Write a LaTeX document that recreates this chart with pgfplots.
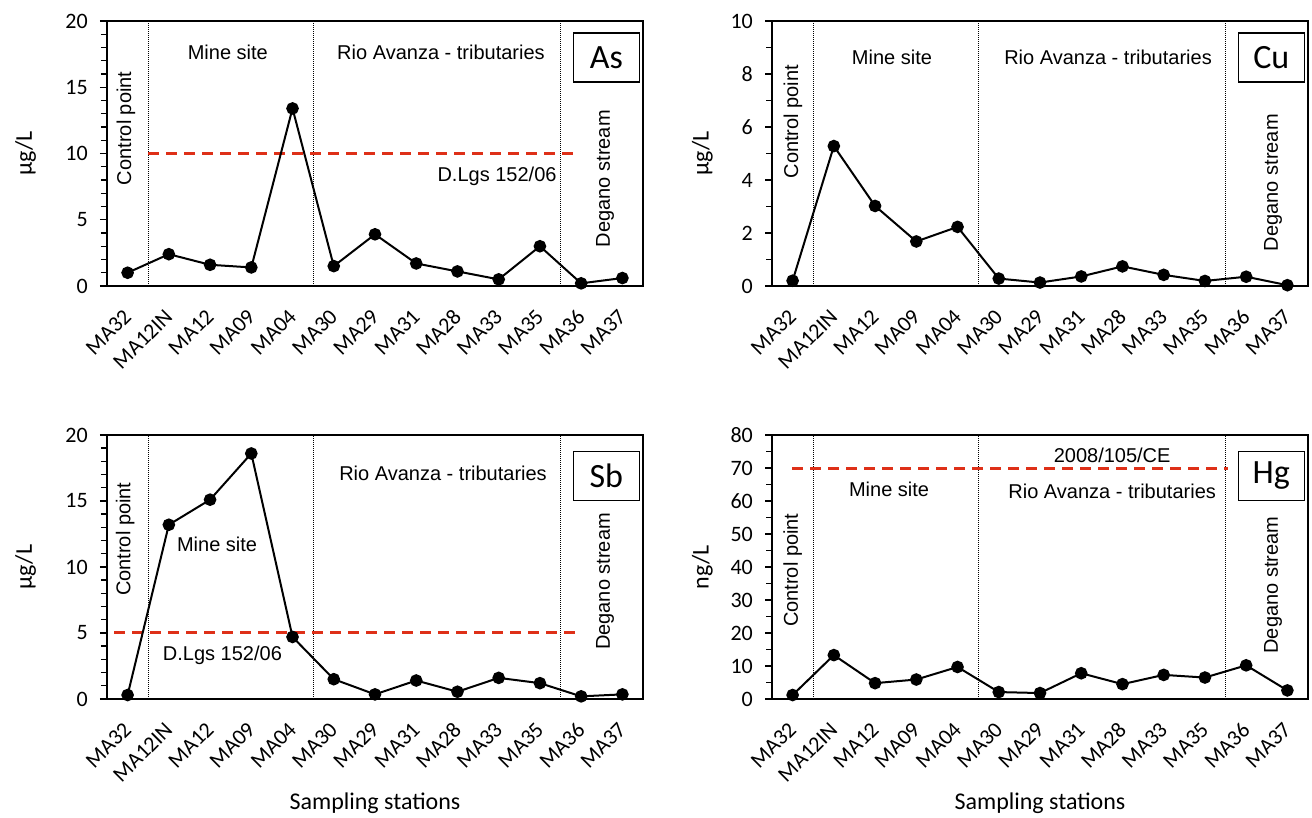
\documentclass[border=0pt]{standalone}
\usepackage{pgfplots}
\pgfplotsset{compat=1.18}
\usepackage{fontspec}
\setmainfont{Carlito}
\newfontfamily\narrowf{Liberation Sans}
\definecolor{dred}{RGB}{222,48,24}

\pgfplotstableread{
x As Cu Sb Hg
0 1.0 0.20 0.30 1.2
1 2.4 5.28 13.2 13.3
2 1.6 3.02 15.1 4.8
3 1.4 1.68 18.6 5.9
4 13.4 2.23 4.7 9.7
5 1.5 0.28 1.5 2.1
6 3.9 0.13 0.35 1.8
7 1.7 0.36 1.4 7.8
8 1.1 0.74 0.55 4.5
9 0.5 0.42 1.6 7.3
10 3.0 0.19 1.2 6.5
11 0.2 0.35 0.2 10.2
12 0.6 0.03 0.35 2.6
}\data

\tikzset{
 ann/.style={font=\fontsize{20}{20}\narrowf},
 elbox/.style={draw, line width=1.5pt, font=\fontsize{34}{34}\selectfont, minimum width=66pt, minimum height=49pt, inner sep=0pt, fill=white},
}
\pgfplotsset{
 panel/.style={
   scale only axis, width=536pt,
   xmin=-0.5, xmax=12.5, ymin=0,
   xtick={0,...,12},
   xticklabels={MA32,MA12IN,MA12,MA09,MA04,MA30,MA29,MA31,MA28,MA33,MA35,MA36,MA37},
   xticklabel style={font=\fontsize{22}{22}\selectfont, rotate=45, anchor=east, inner sep=0pt},
   xticklabel shift=20pt,
   major x tick style={draw=none},
   ytick pos=left, tick align=outside,
   major tick length=7pt, minor tick length=6pt,
   every tick/.append style={black, line width=1.4pt},
   yticklabel style={font=\fontsize{22}{22}\selectfont, /pgf/number format/assume math mode=true, inner sep=2pt},
   yticklabel shift=10pt,
   axis line style={line width=1.6pt},
   clip=false,
 },
 datal/.style={black, line width=2pt, mark=*, mark size=5.3pt, mark options={solid}},
 vdiv/.style={black, line width=1pt, densely dotted},
 lim/.style={dred, line width=3pt, dash pattern=on 11pt off 7pt},
 yl/.style={every axis y label/.style={at={(axis description cs:#1,0.5)}, rotate=90, anchor=center, font=\fontsize{24}{24}\selectfont}},
 xl/.style={xlabel={Sampling stations}, every axis x label/.style={at={(axis description cs:0.5,-0.394)}, anchor=center, font=\fontsize{24}{24}\selectfont}},
}

\begin{document}
\begin{tikzpicture}
\useasboundingbox (0,0) rectangle (1312pt,818pt);

% ---------- As ----------
\begin{axis}[panel, height=265pt, at={(107pt,532pt)}, anchor=south west,
  ymax=20, ytick={0,5,10,15,20}, minor y tick num=4,
  ylabel={µg/L}, yl=-0.152]
\addplot[vdiv] coordinates {(0.5,0) (0.5,20)};
\addplot[vdiv] coordinates {(4.5,0) (4.5,20)};
\addplot[vdiv] coordinates {(10.5,0) (10.5,20)};
\addplot[lim] coordinates {(0.5,10) (10.92,10)};
\addplot[datal] table[x=x, y=As] {\data};
\node[ann] at (axis cs:2.43,17.6) {Mine site};
\node[ann] at (axis cs:7.6,17.6) {Rio Avanza - tributaries};
\node[ann, rotate=90] at (axis cs:-0.04,11.9) {Control point};
\node[ann, rotate=90] at (axis cs:11.58,8.1) {Degano stream};
\node[ann] at (axis cs:8.96,8.3) {D.Lgs 152/06};
\node[elbox] at (axis cs:11.61,17.23) {As};
\end{axis}

% ---------- Cu ----------
\begin{axis}[panel, height=265pt, at={(772pt,532pt)}, anchor=south west,
  ymax=10, ytick={0,2,4,6,8,10}, minor y tick num=1,
  ylabel={µg/L}, yl=-0.13]
\addplot[vdiv] coordinates {(0.5,0) (0.5,10)};
\addplot[vdiv] coordinates {(4.5,0) (4.5,10)};
\addplot[vdiv] coordinates {(10.5,0) (10.5,10)};
\addplot[datal] table[x=x, y=Cu] {\data};
\node[ann] at (axis cs:2.41,8.63) {Mine site};
\node[ann] at (axis cs:7.65,8.63) {Rio Avanza - tributaries};
\node[ann, rotate=90] at (axis cs:0.01,6.2) {Control point};
\node[ann, rotate=90] at (axis cs:11.65,3.9) {Degano stream};
\node[elbox] at (axis cs:11.61,8.62) {Cu};
\end{axis}

% ---------- Sb ----------
\begin{axis}[panel, height=264pt, at={(107pt,119pt)}, anchor=south west,
  ymax=20, ytick={0,5,10,15,20}, minor y tick num=4,
  ylabel={µg/L}, yl=-0.152, xl]
\addplot[vdiv] coordinates {(0.5,0) (0.5,20)};
\addplot[vdiv] coordinates {(4.5,0) (4.5,20)};
\addplot[vdiv] coordinates {(10.5,0) (10.5,20)};
\addplot[lim] coordinates {(-0.33,5) (10.92,5)};
\addplot[datal] table[x=x, y=Sb] {\data};
\node[ann] at (axis cs:7.65,17.1) {Rio Avanza - tributaries};
\node[ann] at (axis cs:2.17,11.7) {Mine site};
\node[ann, rotate=90] at (axis cs:-0.06,12.1) {Control point};
\node[ann, rotate=90] at (axis cs:11.58,8.9) {Degano stream};
\node[ann] at (axis cs:2.3,3.3) {D.Lgs 152/06};
\node[elbox] at (axis cs:11.61,16.9) {Sb};
\end{axis}

% ---------- Hg ----------
\begin{axis}[panel, height=264pt, at={(772pt,119pt)}, anchor=south west,
  ymax=80, ytick={0,10,...,80}, minor y tick num=1,
  ylabel={ng/L}, yl=-0.13, xl]
\addplot[vdiv] coordinates {(0.5,0) (0.5,80)};
\addplot[vdiv] coordinates {(4.5,0) (4.5,80)};
\addplot[vdiv] coordinates {(10.5,0) (10.5,80)};
\addplot[lim] coordinates {(-0.01,70) (10.56,70)};
\addplot[datal] table[x=x, y=Hg] {\data};
\node[ann] at (axis cs:7.75,73.9) {2008/105/CE};
\node[ann] at (axis cs:2.34,63.6) {Mine site};
\node[ann] at (axis cs:7.75,63.0) {Rio Avanza - tributaries};
\node[ann, rotate=90] at (axis cs:0.0,39) {Control point};
\node[ann, rotate=90] at (axis cs:11.65,34.5) {Degano stream};
\node[elbox] at (axis cs:11.61,67.6) {Hg};
\end{axis}
\end{tikzpicture}
\end{document}
